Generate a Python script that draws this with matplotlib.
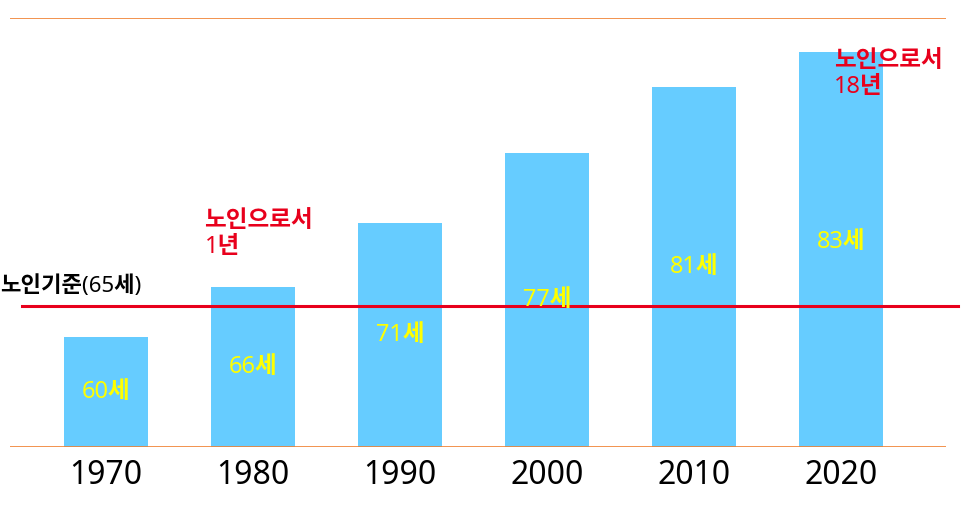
import matplotlib
matplotlib.use("Agg")
import matplotlib.pyplot as plt

plt.rcParams['font.family'] = ['Noto Sans', 'Noto Sans CJK KR', 'DejaVu Sans']

years = ['1970', '1980', '1990', '2000', '2010', '2020']
heights = [110, 160, 224, 294, 360, 395]
age_labels = ['60세', '66세', '71세', '77세', '81세', '83세']
threshold = 141
threshold_label = '노인기준(65세)'
notes = {1: '노인으로서\n1년', 5: '노인으로서\n18년'}

fig = plt.figure(figsize=(9.66, 5.13), dpi=100)
ax = fig.add_axes([10/966, (513-447)/513, 936/966, 429/513])
x = list(range(len(years)))
ax.bar(x, heights, width=84/147, color='#66CCFF')
ax.set_xlim(-96/147, (946-106)/147)
ax.set_ylim(0, 429)
for s in ax.spines.values():
    s.set_visible(False)
ax.set_xticks([]); ax.set_yticks([])
ax.axhline(0, color='#F08030', lw=1.2)
ax.axhline(429, color='#F08030', lw=1.2)
ax.plot([-84/147, (958-106)/147], [threshold, threshold], color='#E8001C', lw=2.2, clip_on=False)
ax.text(-106/147, threshold + 20, threshold_label, fontsize=16, fontweight='bold', ha='left', va='center', clip_on=False)
for i, (h, lab) in enumerate(zip(heights, age_labels)):
    ax.text(i, h * 0.5 + (8 if i == 5 else 0), lab, color='#FFFF00', fontsize=17, fontweight='bold', ha='center', va='center')
    ax.text(i, -28, years[i], fontsize=23, fontweight='bold', ha='center', va='center', clip_on=False)
note_pos = {1: (-0.33, 238), 5: (-0.05, 398)}
for i, t in notes.items():
    dx, y = note_pos[i]
    ax.text(i + dx, y, t, color='#E8001C', fontsize=17,
            fontweight='bold', ha='left', va='top', linespacing=1.1, clip_on=False)
fig.savefig('out.png', dpi=100)
